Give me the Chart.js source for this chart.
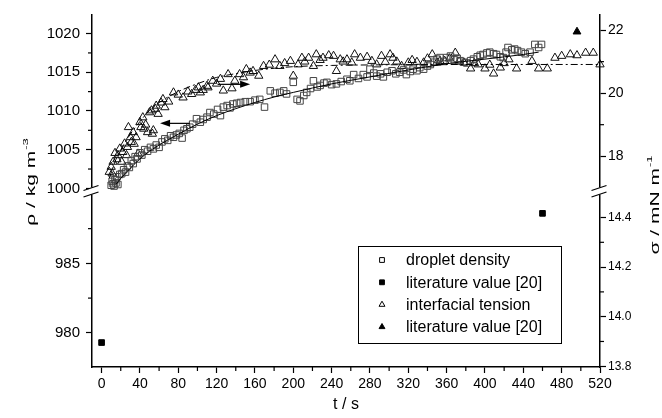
<!DOCTYPE html>
<html>
<head>
<meta charset="utf-8">
<script src="https://cdn.jsdelivr.net/npm/chart.js@4.4.1/dist/chart.umd.min.js"></script>
<style>
  html, body { margin: 0; padding: 0; background: #fff; }
  #wrap { width: 662px; height: 418px; }
</style>
</head>
<body>
<div id="wrap"><canvas id="grafico" width="662" height="418"></canvas></div>
<script>
var fonte = "Arial, 'Liberation Sans', Helvetica, sans-serif"

// droplet density (open squares), left axis
var tempoDensidade = [10, 11, 12, 13, 14, 15, 16, 17, 19, 21, 23, 25, 27, 29, 31, 33, 35, 37, 40, 42, 45, 48, 51, 54, 57, 60,
    63, 66, 69, 72, 75, 78, 81, 84, 86, 89, 92, 95, 99, 103, 106, 110, 113, 117, 121, 124, 127, 131, 134, 137, 141, 145,
    150, 155, 160, 165, 170, 176, 181, 186, 190, 193, 200, 204, 207, 211, 214, 218, 221, 225, 228, 232, 235, 240, 245, 250,
    256, 259, 263, 268, 273, 277, 280, 284, 287, 291, 294, 298, 303, 307, 311, 315, 318, 322, 325, 329, 332, 336, 340, 343,
    347, 350, 353, 357, 360, 364, 368, 371, 374, 378, 381, 385, 388, 392, 395, 398, 402, 405, 409, 412, 416, 419, 422, 424,
    428, 431, 434, 438, 442, 447, 452, 456, 459]
var densidade = [1000.4, 1000.9, 1000.6, 1000.3, 1001.1, 1000.7, 1001.5, 1000.5, 1001.8, 1001.9, 1002.4, 1002.1, 1002.9, 1002.7,
    1003.6, 1003.2, 1004.1, 1003.8, 1004.6, 1004.3, 1005.0, 1004.8, 1005.3, 1005.1, 1005.6, 1005.3, 1006.0, 1006.4, 1006.2,
    1006.8, 1006.6, 1006.9, 1007.1, 1006.5, 1007.5, 1007.7, 1007.9, 1008.3, 1009.0, 1008.55, 1008.9, 1009.2, 1009.8, 1009.6,
    1010.2, 1009.4, 1010.5, 1010.7, 1010.4, 1010.9, 1011.0, 1011.1, 1011.2, 1011.2, 1011.4, 1011.5, 1010.5, 1012.6, 1012.3,
    1012.4, 1012.6, 1012.2, 1013.7, 1011.5, 1011.3, 1012.0, 1012.4, 1012.9, 1013.9, 1013.1, 1013.3, 1013.6, 1013.7, 1013.4,
    1013.5, 1013.8, 1014.1, 1013.9, 1014.7, 1014.2, 1014.7, 1014.4, 1015.4, 1014.9, 1014.5, 1014.8, 1014.4, 1015.0, 1015.2,
    1014.8, 1015.0, 1015.3, 1014.7, 1015.1, 1015.4, 1015.2, 1015.6, 1015.4, 1015.8, 1016.0, 1016.3, 1016.7, 1016.9, 1016.4,
    1016.9, 1017.1, 1016.6, 1016.8, 1016.5, 1016.3, 1016.2, 1016.5, 1016.7, 1017.0, 1017.2, 1017.3, 1017.5, 1017.6, 1017.4,
    1017.3, 1017.0, 1016.9, 1017.6, 1018.2, 1017.9, 1018.0, 1017.8, 1017.6, 1017.4, 1017.6, 1018.6, 1018.2, 1018.6]

// interfacial tension (open triangles), right axis
var tempoTensao = [8, 10, 11, 12, 14, 16, 17, 19, 21, 22, 24, 26, 27, 28, 30, 31, 33, 34, 36, 38, 40, 41, 43, 44, 46, 48, 50,
    52, 53, 54, 56, 57, 59, 62, 64, 66, 70, 75, 80, 85, 90, 94, 98, 101, 103, 106, 110, 111, 116, 120, 124, 127, 132, 136,
    139, 144, 148, 151, 155, 158, 164, 169, 175, 181, 186, 191, 197, 200, 205, 209, 212, 216, 221, 224, 228, 231, 237, 242,
    245, 249, 252, 256, 261, 264, 270, 277, 282, 287, 292, 296, 301, 304, 308, 313, 320, 324, 329, 336, 340, 345, 350, 353,
    358, 363, 369, 373, 378, 385, 389, 393, 400, 405, 409, 416, 420, 425, 433, 449, 456, 465, 473, 480, 489, 496, 505, 513, 520]
var tensao = [17.5, 17.66, 17.45, 17.82, 18.1, 17.9, 18.03, 18.24, 17.82, 18.13, 18.4, 18.03, 18.29, 18.92, 18.6, 18.45, 18.76,
    18.39, 18.6, 18.08, 19.08, 18.92, 19.23, 18.87, 19.0, 18.76, 19.39, 19.45, 18.71, 18.82, 19.5, 19.6, 19.34, 19.7, 19.81,
    19.55, 19.73, 20.02, 19.95, 19.86, 20.05, 19.97, 20.1, 20.18, 20.02, 20.1, 20.23, 20.18, 20.39, 20.3, 20.45, 20.08, 20.6,
    20.15, 20.39, 20.6, 20.5, 20.76, 20.65, 20.7, 20.55, 20.86, 20.9, 21.07, 20.86, 20.95, 21.02, 20.55, 20.91, 21.12, 21.0,
    21.12, 20.86, 21.23, 21.05, 21.12, 21.2, 21.18, 20.7, 21.07, 21.0, 21.07, 20.97, 21.23, 21.12, 21.15, 21.02, 20.91, 21.18,
    20.99, 21.23, 21.12, 21.0, 20.86, 20.97, 21.05, 20.99, 20.97, 21.1, 21.23, 20.97, 21.02, 21.02, 21.1, 21.28, 21.0, 20.97,
    20.78, 20.95, 20.91, 20.78, 20.9, 20.62, 20.81, 20.95, 21.07, 20.78, 21.02, 20.78, 20.78, 21.12, 21.18, 21.23, 21.2,
    21.28, 21.28, 20.91]

// literature values [20]
var tempoLitDensidade = [0, 460]
var litDensidade = [979.3, 988.6]
var tempoLitTensao = [496]
var litTensao = [21.95]

// fitted curves
var tempoAjusteDensidade = [15, 20, 30, 40, 50, 60, 80, 100, 120, 140, 160, 180, 200, 240, 280, 320, 360, 400, 440, 456]
var ajusteDensidade = [1000.5, 1001.3, 1002.6, 1003.8, 1004.8, 1005.6, 1007.0, 1008.3, 1009.4, 1010.3, 1011.1, 1011.8,
    1012.4, 1013.5, 1014.4, 1015.3, 1016.1, 1016.7, 1017.3, 1017.6]
var tempoAjusteTensao = [8, 15, 20, 30, 40, 50, 60, 80, 100, 120, 140, 160, 180, 200, 240, 300, 400, 520]
var ajusteTensao = [17.3, 17.9, 18.2, 18.7, 19.1, 19.45, 19.7, 20.05, 20.3, 20.5, 20.62, 20.72, 20.79, 20.84, 20.88, 20.9,
    20.91, 20.91]

// arrows pointing to the axis of each series [t, value]
var setaDensidade = [[92, 1008.4], [61, 1008.4]]
var setaTensao = [[121, 20.28], [155, 20.28]]

var legendas = ['droplet density', 'literature value [20]', 'interfacial tension', 'literature value [20]']

// ticks
var ticksX = [0, 40, 80, 120, 160, 200, 240, 280, 320, 360, 400, 440, 480, 520]
var ticksXMenor = [20, 60, 100, 140, 180, 220, 260, 300, 340, 380, 420, 460, 500]
var ticksRhoCima = [1000, 1005, 1010, 1015, 1020]
var ticksRhoCimaMenor = [1002.5, 1007.5, 1012.5, 1017.5]
var ticksRhoBaixo = [980, 985]
var ticksRhoBaixoMenor = [982.5, 987.5]
var ticksSigmaCima = [18, 20, 22]
var ticksSigmaCimaMenor = [19, 21]
var ticksSigmaBaixo = [13.8, 14.0, 14.2, 14.4]
var ticksSigmaBaixoMenor = [13.9, 14.1, 14.3]

function pontos(ts, vs) {
    return ts.map(function (t, i) { return { x: t, y: vs[i] } })
}

function fixarTicks(lista) {
    return function (scale) {
        scale.ticks = lista.map(function (v) { return { value: v } })
    }
}

function eixoY(posicao, peso, min, max, lista, largura, tamanho, casas) {
    return {
        type: 'linear',
        position: posicao,
        stack: posicao,
        stackWeight: 1,
        weight: peso,
        min: min,
        max: max,
        afterBuildTicks: fixarTicks(lista),
        afterFit: function (s) { s.width = largura },
        grid: { drawOnChartArea: false, tickLength: 6, tickWidth: 1.2, tickColor: '#000' },
        border: { color: '#000', width: 1.5 },
        ticks: {
            color: '#000',
            padding: posicao == 'left' ? 6 : 2,
            autoSkip: false,
            font: { family: fonte, size: tamanho },
            callback: function (v) { return casas ? Number(v).toFixed(casas) : String(v) }
        }
    }
}

function linha(ctx, x0, y0, x1, y1) {
    ctx.beginPath()
    ctx.moveTo(x0, y0)
    ctx.lineTo(x1, y1)
    ctx.stroke()
}

function seta(ctx, sx, sy, de, para) {
    var x0 = sx.getPixelForValue(de[0]), y0 = sy.getPixelForValue(de[1])
    var x1 = sx.getPixelForValue(para[0]), y1 = sy.getPixelForValue(para[1])
    var dir = x1 > x0 ? 1 : -1
    ctx.lineWidth = 1.2
    linha(ctx, x0, y0, x1 - dir * 6, y1)
    ctx.beginPath()
    ctx.moveTo(x1, y1)
    ctx.lineTo(x1 - dir * 10, y1 - 3.5)
    ctx.lineTo(x1 - dir * 10, y1 + 3.5)
    ctx.closePath()
    ctx.fill()
}

function quebra(ctx, x, y) {
    ctx.fillStyle = '#fff'
    ctx.fillRect(x - 3, y - 3.5, 6, 7)
    ctx.fillStyle = '#000'
    ctx.lineWidth = 1.3
    linha(ctx, x - 8.5, y - 0.5, x + 6.5, y - 5.5)
    linha(ctx, x - 8.5, y + 6, x + 6.5, y + 1)
}

function tituloVertical(ctx, texto, sup, cx, cy) {
    ctx.save()
    ctx.translate(cx, cy)
    ctx.rotate(-Math.PI / 2)
    ctx.scale(1, 0.62)
    ctx.font = '21px ' + fonte
    var w1 = ctx.measureText(texto).width
    ctx.font = '13px ' + fonte
    var w2 = ctx.measureText(sup).width
    var x0 = -(w1 + w2 + 1) / 2
    ctx.textBaseline = 'middle'
    ctx.textAlign = 'left'
    ctx.font = '21px ' + fonte
    ctx.fillText(texto, x0, 0)
    ctx.font = '13px ' + fonte
    ctx.fillText(sup, x0 + w1 + 1, -8)
    ctx.restore()
}

var extras = {
    id: 'extras',
    afterDraw: function (chart) {
        var ctx = chart.ctx
        var s = chart.scales
        var area = chart.chartArea
        ctx.save()
        ctx.strokeStyle = '#000'
        ctx.fillStyle = '#000'
        ctx.lineWidth = 1.2

        // minor ticks
        ticksXMenor.forEach(function (v) {
            var px = s.x.getPixelForValue(v)
            linha(ctx, px, area.bottom, px, area.bottom + 4)
        })
        ticksRhoCimaMenor.forEach(function (v) {
            var py = s.yRhoCima.getPixelForValue(v)
            linha(ctx, area.left - 4, py, area.left, py)
        })
        ticksRhoBaixoMenor.forEach(function (v) {
            var py = s.yRhoBaixo.getPixelForValue(v)
            linha(ctx, area.left - 4, py, area.left, py)
        })
        ticksSigmaCimaMenor.forEach(function (v) {
            var py = s.ySigmaCima.getPixelForValue(v)
            linha(ctx, area.right, py, area.right + 4, py)
        })
        ticksSigmaBaixoMenor.forEach(function (v) {
            var py = s.ySigmaBaixo.getPixelForValue(v)
            linha(ctx, area.right, py, area.right + 4, py)
        })

        // axis breaks
        quebra(ctx, area.left, s.yRhoCima.bottom)
        quebra(ctx, area.right, s.ySigmaCima.bottom)

        // arrows
        ctx.fillStyle = '#000'
        seta(ctx, s.x, s.yRhoCima, setaDensidade[0], setaDensidade[1])
        seta(ctx, s.x, s.ySigmaCima, setaTensao[0], setaTensao[1])

        // axis titles
        tituloVertical(ctx, 'ρ / kg m', '-3', 31, 182)
        tituloVertical(ctx, 'σ / mN m', '-1', 655, 205)
        ctx.font = '16px ' + fonte
        ctx.textAlign = 'center'
        ctx.textBaseline = 'middle'
        ctx.fillText('t / s', (area.left + area.right) / 2, 405)

        // legend
        var lx = area.left + 266, ly = 246, lw = 203, lh = 97
        ctx.fillStyle = '#fff'
        ctx.fillRect(lx, ly, lw, lh)
        ctx.strokeStyle = '#000'
        ctx.lineWidth = 1
        ctx.strokeRect(lx + 0.5, ly + 0.5, lw, lh)
        var estilos = [
            { style: 'rect', r: 3.4, fill: '#fff' },
            { style: 'rect', r: 3.4, fill: '#000' },
            { style: 'triangle', r: 3.4, fill: '#fff' },
            { style: 'triangle', r: 3.4, fill: '#000' }
        ]
        ctx.font = '16px ' + fonte
        ctx.textAlign = 'left'
        ctx.textBaseline = 'middle'
        for (var i = 0; i < legendas.length; i++) {
            var yy = ly + 14 + i * 22.3
            ctx.fillStyle = estilos[i].fill
            ctx.strokeStyle = '#000'
            ctx.lineWidth = 1
            Chart.helpers.drawPoint(ctx, { pointStyle: estilos[i].style, radius: estilos[i].r, rotation: 0, borderWidth: 1 }, lx + 24, yy)
            ctx.fillStyle = '#000'
            ctx.fillText(legendas[i], lx + 48, yy + 1)
        }
        ctx.restore()
    }
}

var grafico = new Chart(document.getElementById('grafico'), {
    type: 'scatter',
    data: {
        datasets: [{
            type: 'line',
            data: pontos(tempoAjusteDensidade, ajusteDensidade),
            yAxisID: 'yRhoCima',
            borderColor: '#000',
            borderWidth: 1,
            pointRadius: 0,
            cubicInterpolationMode: 'monotone',
            fill: false
        }, {
            type: 'line',
            data: pontos(tempoAjusteTensao, ajusteTensao),
            yAxisID: 'ySigmaCima',
            borderColor: '#000',
            borderWidth: 1,
            borderDash: [7, 3, 2, 3],
            pointRadius: 0,
            cubicInterpolationMode: 'monotone',
            fill: false
        }, {
            data: pontos(tempoDensidade, densidade),
            yAxisID: 'yRhoCima',
            pointStyle: 'rect',
            pointRadius: 4.6,
            borderColor: '#444',
            borderWidth: 1,
            backgroundColor: 'rgba(255,255,255,0)',
            clip: false
        }, {
            data: pontos(tempoTensao, tensao),
            yAxisID: 'ySigmaCima',
            pointStyle: 'triangle',
            pointRadius: 4.8,
            borderColor: '#111',
            borderWidth: 1,
            backgroundColor: 'rgba(255,255,255,0)',
            clip: false
        }, {
            data: pontos(tempoLitDensidade, litDensidade),
            yAxisID: 'yRhoBaixo',
            pointStyle: 'rect',
            pointRadius: 4,
            borderColor: '#000',
            backgroundColor: '#000',
            clip: false
        }, {
            data: pontos(tempoLitTensao, litTensao),
            yAxisID: 'ySigmaCima',
            pointStyle: 'triangle',
            pointRadius: 4.5,
            borderColor: '#000',
            backgroundColor: '#000',
            clip: false
        }]
    },
    options: {
        responsive: false,
        animation: false,
        devicePixelRatio: 1,
        events: [],
        layout: { padding: { top: 12, left: 0, right: 0, bottom: 0 } },
        plugins: { legend: { display: false }, tooltip: { enabled: false } },
        scales: {
            x: {
                type: 'linear',
                min: -10,
                max: 520,
                afterBuildTicks: fixarTicks(ticksX),
                afterFit: function (s) { s.height = 51 },
                grid: { drawOnChartArea: false, tickLength: 6, tickWidth: 1.2, tickColor: '#000' },
                border: { color: '#000', width: 1.5 },
                ticks: { color: '#000', padding: 3, maxRotation: 0, autoSkip: false, font: { family: fonte, size: 14 } }
            },
            yRhoBaixo: eixoY('left', 0, 977.54, 990.21, ticksRhoBaixo, 92, 15, 0),
            yRhoCima: eixoY('left', 1, 999.66, 1022.4, ticksRhoCima, 92, 15, 0),
            ySigmaCima: eixoY('right', 0, 16.896, 22.48, ticksSigmaCima, 62, 14, 0),
            ySigmaBaixo: eixoY('right', 1, 13.797, 14.507, ticksSigmaBaixo, 62, 12, 1)
        }
    },
    plugins: [extras]
});
</script>
</body>
</html>
